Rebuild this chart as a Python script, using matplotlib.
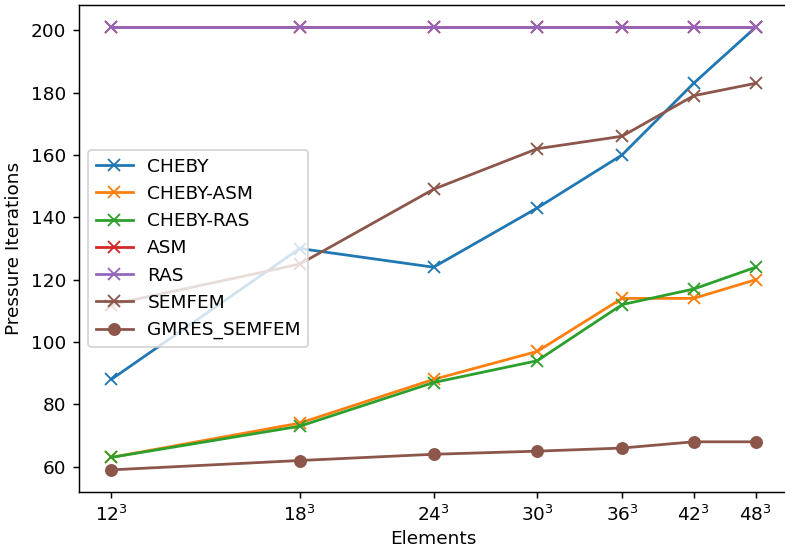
import numpy as np
import matplotlib
matplotlib.use('Agg')
import matplotlib.pyplot as plt
from matplotlib.ticker import NullLocator

# elements per side (plotted as N^3 on log axis)
sides = [12, 18, 24, 30, 36, 42, 48]
tick_labels = ['$12^3$', '$18^3$', '$24^3$', '$30^3$', '$36^3$', '$42^3$', '$48^3$']

cheby = [88, 130, 124, 143, 160, 183, 201]
cheby_asm = [63, 74, 88, 97, 114, 114, 120]
cheby_ras = [63, 73, 87, 94, 112, 117, 124]
asm = [201, 201, 201, 201, 201, 201, 201]
ras = [201, 201, 201, 201, 201, 201, 201]
semfem = [112, 125, 149, 162, 166, 179, 183]
gmres_semfem = [59, 62, 64, 65, 66, 68, 68]

elems = np.array(sides) ** 3

DPI = 133
fig = plt.figure(figsize=(785 / DPI, 547 / DPI), dpi=DPI)
ax = fig.add_axes([79 / 785, 1 - 492 / 547, 709 / 785, 487 / 547])

ax.plot(elems, cheby, marker='x', label='CHEBY')
ax.plot(elems, cheby_asm, marker='x', label='CHEBY-ASM')
ax.plot(elems, cheby_ras, marker='x', label='CHEBY-RAS')
ax.plot(elems, asm, marker='x', label='ASM')
ax.plot(elems, ras, marker='x', label='RAS')
ax.plot(elems, semfem, marker='x', label='SEMFEM')
ax.plot(elems, gmres_semfem, marker='o', color='C5', label='GMRES_SEMFEM')

ax.set_xscale('log')
ax.set_xticks(elems)
ax.set_xticklabels(tick_labels)
ax.xaxis.set_minor_locator(NullLocator())
ax.set_yticks([60, 80, 100, 120, 140, 160, 180, 200])

ax.set_xlabel('Elements', labelpad=2.5)
ax.set_ylabel('Pressure Iterations')
ax.legend(loc='center left')

fig.savefig('out.png', dpi=DPI)
